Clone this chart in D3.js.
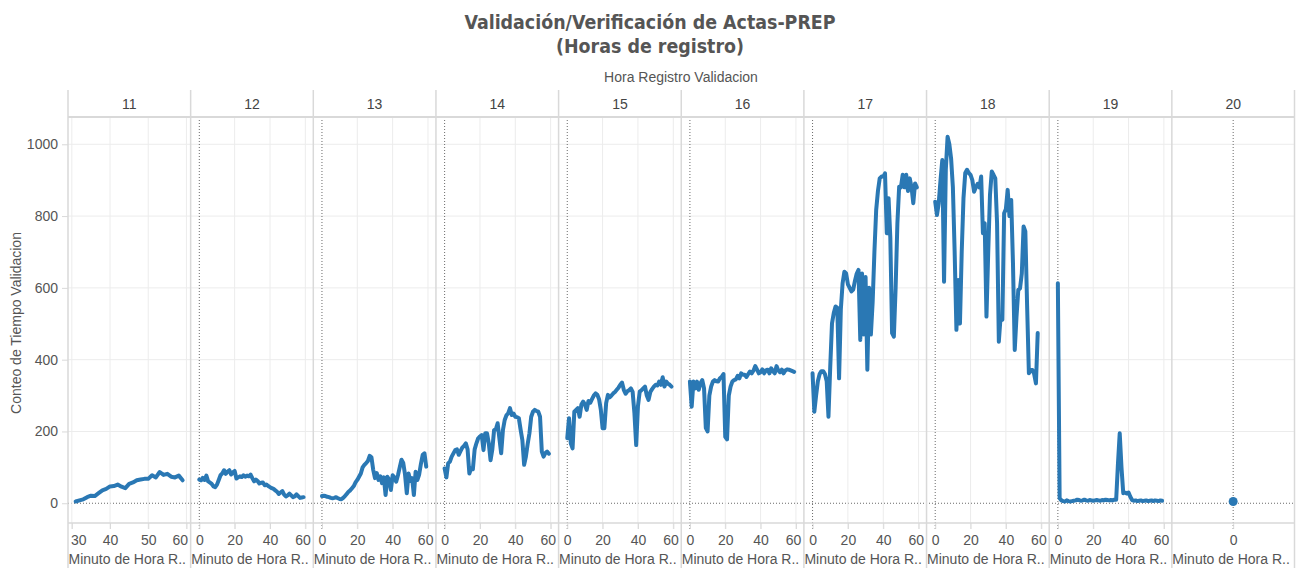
<!DOCTYPE html>
<html><head><meta charset="utf-8">
<script src="https://cdn.jsdelivr.net/npm/d3@7"></script>
<style>
body{margin:0;background:#fff}
svg{display:block}
text{font-family:"Liberation Sans",Arial,sans-serif}
</style>
</head><body>
<svg id="c" width="1299" height="568"></svg>
<script>
// ---------- data ----------
const titleLines = ["Validación/Verificación de Actas-PREP", "(Horas de registro)"];
const columnTitle = "Hora Registro Validacion";
const yTitle = "Conteo de Tiempo Validacion";
const xTitle = "Minuto de Hora R..";
const hours = ["11","12","13","14","15","16","17","18","19","20"];
const startMinute = [31,0,0,0,0,0,0,0,0,0];
const yTicks = [0,200,400,600,800,1000];
const xTicks = [[30,40,50,60],[0,20,40,60],[0,20,40,60],[0,20,40,60],[0,20,40,60],[0,20,40,60],[0,20,40,60],[0,20,40,60],[0,20,40,60],[0]];

const v11 = [5,8,11,17,21,20,28,36,40,47,48,52,46,42,54,58,64,66,68,68,78,72,87,79,82,74,72,77,64];
const v12 = [66,64,71,65,77,61,58,54,47,45,52,65,78,83,92,82,88,92,80,86,90,69,72,75,73,78,74,77,75,80,70,61,66,62,55,57,58,50,52,48,45,42,40,36,32,26,30,34,24,19,22,27,22,17,19,25,20,15,16,17];
const v13 = [20,21,20,18,17,15,14,15,17,14,12,11,15,20,26,32,36,42,48,58,65,74,83,100,107,112,118,132,128,93,70,84,65,75,56,72,23,74,66,37,78,72,60,78,100,121,112,80,28,83,62,70,23,88,65,80,110,135,139,102];
const v14 = [97,72,111,116,130,139,148,150,135,145,155,160,167,150,83,97,95,150,167,181,186,190,148,195,195,167,120,150,204,206,223,180,139,204,232,245,251,265,246,250,241,240,237,205,176,107,130,165,195,241,255,260,257,255,241,144,130,140,144,138];
const v15 = [181,237,167,153,255,260,265,241,275,283,275,260,285,280,290,300,306,302,290,260,209,209,279,302,295,300,306,310,316,322,330,336,316,305,312,315,320,310,251,162,270,311,315,320,325,300,288,310,318,325,330,328,339,330,351,325,339,333,330,325];
const v16 = [339,269,339,320,339,316,335,343,320,210,200,300,325,339,343,340,339,348,352,360,185,178,300,325,339,343,345,355,348,362,358,358,352,360,367,362,370,382,372,362,365,373,362,370,372,362,376,368,362,382,370,365,372,362,370,373,372,370,368,366];
const v17 = [362,255,300,340,360,368,368,360,340,241,380,501,530,548,545,348,540,613,645,640,610,600,590,595,620,640,650,455,640,470,630,372,600,470,560,700,817,870,905,910,910,919,752,850,740,474,464,600,780,882,880,915,880,915,870,905,880,836,891,880];
const v18 = [840,803,836,900,956,617,930,1021,1000,960,880,700,483,622,501,700,850,920,929,920,915,900,868,880,890,880,910,752,780,520,700,860,924,915,905,780,450,520,511,808,820,873,800,845,669,427,520,594,599,640,771,757,550,362,371,371,360,334,474];
const v19 = [613,14,8,6,5,8,6,5,6,7,8,10,9,7,8,10,8,7,9,8,7,8,9,8,7,9,8,10,9,8,9,8,10,10,110,195,100,28,30,27,30,18,9,7,8,6,7,8,6,7,8,6,7,8,6,8,7,6,8,7];
const v20 = [5];
const series = [v11,v12,v13,v14,v15,v16,v17,v18,v19,v20];

// axis ranges per panel (scale setup)
const xDomains = [[29,61.1],[-4.9,64.5],[-4.9,64.5],[-4.9,64.5],[-4.9,64.5],[-4.9,64.5],[-4.9,64.5],[-4.9,64.5],[-4.9,64.5],[-1,1]];

// ---------- layout ----------
const L = 68, R = 1294.5, headTop = 90, headBot = 117, plotTop = 117, plotBot = 523, H = 568;
const lineColor = "#2a78b4", gridColor = "#ececec", sepColor = "#d9d9d9", dotColor = "#6a6a6a";

const svg = d3.select("#c");
const band = d3.scaleBand().domain(hours).range([L, R]);
const y = d3.scaleLinear().domain([-55, 1076]).range([plotBot, plotTop]);

// title
svg.append("g").selectAll("text").data(titleLines).join("text")
  .attr("x", 650).attr("y", (d,i) => 29 + i*24.3)
  .attr("text-anchor","middle")
  .style("font-family",'"DejaVu Sans Condensed","DejaVu Sans",sans-serif')
  .style("font-stretch","condensed")
  .style("font-weight","bold").style("font-size","19.4px").attr("fill","#555")
  .text(d => d);

svg.append("text").attr("x", 681).attr("y", 82).attr("text-anchor","middle")
  .style("font-size","14px").attr("fill","#555").text(columnTitle);

// horizontal grid
svg.append("g").selectAll("line").data(yTicks.filter(t => t !== 0)).join("line")
  .attr("x1", L).attr("x2", R).attr("y1", d => y(d)).attr("y2", d => y(d))
  .attr("stroke", gridColor).attr("stroke-width",1);

// zero line dotted
svg.append("line").attr("x1", L).attr("x2", R).attr("y1", y(0)).attr("y2", y(0))
  .attr("stroke", dotColor).attr("stroke-width",1).attr("stroke-dasharray","1,2");

// per-panel grid, axes, lines
hours.forEach((h, i) => {
  const x0 = band(h), x1 = x0 + band.bandwidth();
  const x = d3.scaleLinear().domain(xDomains[i]).range([x0, x1]);
  const g = svg.append("g");
  g.selectAll("line.grid").data(xTicks[i].filter(t => t !== 0)).join("line")
    .attr("class","grid")
    .attr("x1", d => x(d)).attr("x2", d => x(d)).attr("y1", plotTop).attr("y2", plotBot + 6)
    .attr("stroke", gridColor).attr("stroke-width",1);
  if (xTicks[i].includes(0)) {
    g.append("line").attr("x1", x(0)).attr("x2", x(0)).attr("y1", plotTop).attr("y2", plotBot + 6)
      .attr("stroke", dotColor).attr("stroke-width",1).attr("stroke-dasharray","1,2");
  }
  g.append("text").attr("x", (x0+x1)/2).attr("y", 108.5).attr("text-anchor","middle")
    .style("font-size","14px").attr("fill","#444").text(h);
  const ax = g.append("g").attr("transform", `translate(0,${plotBot})`)
    .call(d3.axisBottom(x).tickValues(xTicks[i]).tickSize(6).tickPadding(8).tickFormat(d3.format("d")));
  ax.select(".domain").remove();
  ax.selectAll(".tick line").attr("stroke", sepColor);
  ax.selectAll(".tick text").style("font-size","14px").style("font-family",'"Liberation Sans",Arial,sans-serif').attr("fill","#555")
    .attr("dy", null).attr("y", 22);
  ax.selectAll(".tick").each(function(d) {
    const t = d3.select(this).select("text");
    const w = t.node().getComputedTextLength();
    const cx = x(d);
    const cl = Math.max(x0 + w/2 + 2.5, Math.min(x1 - w/2 - 3, cx));
    t.attr("x", cl - cx);
  });
  g.append("text").attr("x", x0 + 0.5).attr("y", 564).style("font-size","14px").attr("fill","#555").text(xTitle);

  const pts = series[i].map((v, k) => [startMinute[i] + k, v]);
  if (pts.length > 1) {
    g.append("path").datum(pts)
      .attr("d", d3.line().x(d => x(d[0])).y(d => y(d[1])))
      .attr("fill","none").attr("stroke", lineColor).attr("stroke-width",4)
      .attr("stroke-linejoin","round").attr("stroke-linecap","round");
  } else {
    g.selectAll("circle").data(pts).join("circle")
      .attr("cx", d => x(d[0])).attr("cy", d => y(d[1])).attr("r", 4.5).attr("fill", lineColor);
  }
});

// separators
const seps = hours.map(h => band(h)).concat([R]);
svg.append("g").selectAll("line").data(seps).join("line")
  .attr("x1", d => d).attr("x2", d => d).attr("y1", headTop).attr("y2", H)
  .attr("stroke", sepColor).attr("stroke-width",1.5);
svg.append("line").attr("x1", L).attr("x2", R).attr("y1", headBot).attr("y2", headBot)
  .attr("stroke", sepColor).attr("stroke-width",2);
svg.append("line").attr("x1", L).attr("x2", R).attr("y1", plotBot).attr("y2", plotBot)
  .attr("stroke", sepColor).attr("stroke-width",1.5);

// y axis
const ya = svg.append("g").attr("transform", `translate(${L},0)`)
  .call(d3.axisLeft(y).tickValues(yTicks).tickSize(6).tickPadding(4).tickFormat(d3.format("d")));
ya.select(".domain").remove();
ya.selectAll(".tick line").attr("stroke", sepColor);
ya.selectAll(".tick text").style("font-size","14px").style("font-family",'"Liberation Sans",Arial,sans-serif').attr("fill","#555");

svg.append("text").attr("transform","translate(21,323) rotate(-90)").attr("text-anchor","middle")
  .style("font-size","14px").attr("fill","#555").text(yTitle);
</script>
</body></html>
